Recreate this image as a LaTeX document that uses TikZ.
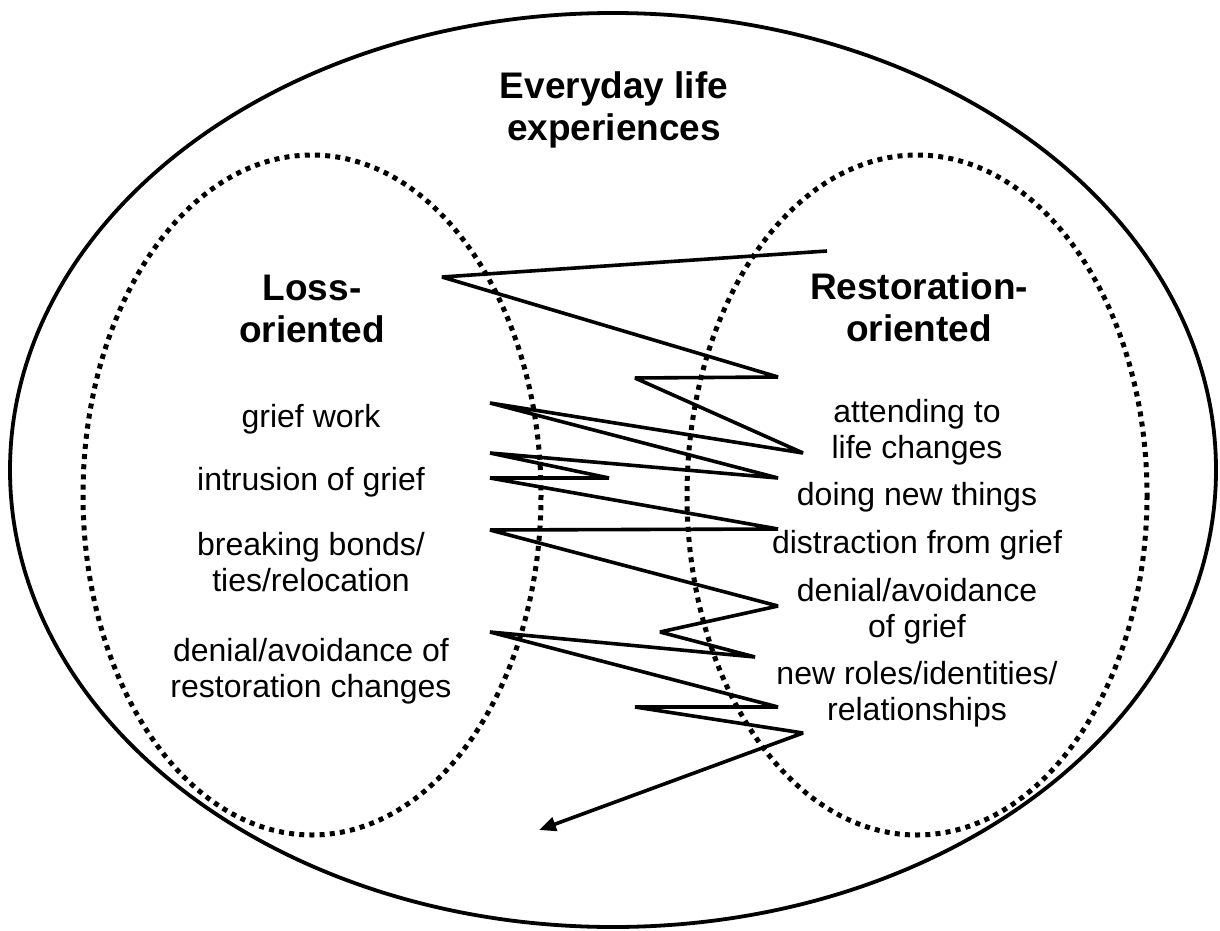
\documentclass[tikz,border=0pt]{standalone}
\usepackage{fontspec}
\setmainfont{Liberation Sans}
\usetikzlibrary{arrows.meta}
\begin{document}
\begin{tikzpicture}[x=1pt,y=-1pt,
  region/.style={line width=5pt, dash pattern=on 5pt off 5.2pt},
  outerline/.style={line width=3.8pt},
  heading/.style={font=\fontsize{37}{42}\selectfont\bfseries, align=center, anchor=base, inner sep=0pt},
  itemtext/.style={font=\fontsize{32}{36}\selectfont, align=center, anchor=base, inner sep=0pt},
  oscillation/.style={line width=3.6pt, line join=miter, miter limit=3,
    -{Triangle[length=17pt,width=14pt]}}
]
\useasboundingbox[fill=white] (0,0) rectangle (1220,931);

% outer frame and the two orientation regions
\draw[outerline] (613,470) ellipse [x radius=603, y radius=457];
\draw[region] (312,495) ellipse [x radius=229, y radius=340];
\draw[region] (917,495) ellipse [x radius=230, y radius=340];

% headings (multi-line nodes sit on the baseline of their last line)
\node[heading] (title) at (614,140) {Everyday life\\experiences};
\node[heading] (loss) at (312,342) {Loss-\\oriented};
\node[heading] (rest) at (919,341) {Restoration-\\oriented};

% loss-oriented stressors
\node[itemtext] (l1) at (311,427) {grief work};
\node[itemtext] (l2) at (311,490) {intrusion of grief};
\node[itemtext] (l3) at (311,591) {breaking bonds/\\ties/relocation};
\node[itemtext] (l4) at (311,697) {denial/avoidance of\\restoration changes};

% restoration-oriented stressors
\node[itemtext] (r1) at (917,458) {attending to\\life changes};
\node[itemtext] (r2) at (917,505) {doing new things};
\node[itemtext] (r3) at (917,553) {distraction from grief};
\node[itemtext] (r4) at (917,637) {denial/avoidance\\of grief};
\node[itemtext] (r5) at (917,720) {new roles/identities/\\relationships};

% turning points of the oscillation line
\coordinate (z0) at (827,251);
\coordinate (z1) at (442,277);
\coordinate (z2) at (778,377);
\coordinate (z3) at (635,378);
\coordinate (z4) at (803,453);
\coordinate (z5) at (490,403);
\coordinate (z6) at (778,478);
\coordinate (z7) at (490,453);
\coordinate (z8) at (609,478);
\coordinate (z9) at (490,478);
\coordinate (z10) at (778,529);
\coordinate (z11) at (490,530);
\coordinate (z12) at (778,606);
\coordinate (z13) at (660,632);
\coordinate (z14) at (755,657);
\coordinate (z15) at (490,632);
\coordinate (z16) at (778,707);
\coordinate (z17) at (635,707);
\coordinate (z18) at (803,733);
\coordinate (z19) at (539,830);

\draw[oscillation] (z0) -- (z1) -- (z2) -- (z3) -- (z4) -- (z5) -- (z6) -- (z7)
  -- (z8) -- (z9) -- (z10) -- (z11) -- (z12) -- (z13) -- (z14) -- (z15)
  -- (z16) -- (z17) -- (z18) -- (z19);
\end{tikzpicture}
\end{document}
